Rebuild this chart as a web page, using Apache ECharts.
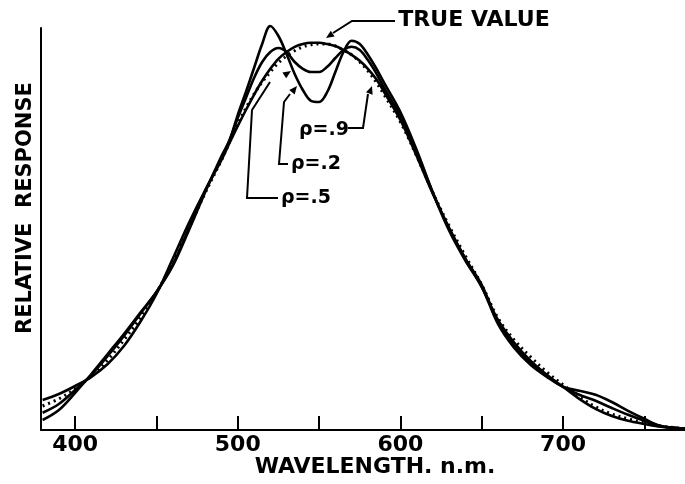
<!DOCTYPE html>
<html><head><meta charset="utf-8">
<script src="https://cdn.jsdelivr.net/npm/echarts@6/dist/echarts.min.js"></script>
<style>html,body{margin:0;padding:0;background:#fff}#c{width:685px;height:484px}</style>
</head><body><div id="c"></div>
<script>
// Wavelength samples (nm)
const wavelengths = [380,390,400,410,420,430,440,450,460,470,480,490,495,500,505,510,515,520,525,530,535,540,545,550,555,560,565,570,575,580,585,590,600,610,620,630,640,650,660,670,680,690,700,710,720,730,740,750,760,770,775];
// Relative response (0-100)
const trueValue = [6.0,7.8,10.3,13.5,17.5,22.5,28.0,34.3,42.0,50.5,59.3,67.5,72.0,76.5,80.5,84.0,87.0,89.5,91.8,93.5,94.8,95.8,96.3,96.5,96.5,96.0,95.0,93.8,92.0,89.8,87.0,83.8,77.0,68.5,59.3,51.0,43.5,36.3,28.0,22.5,18.3,14.5,11.3,8.3,5.8,4.0,2.8,1.8,1.0,0.5,0.3];
const rho2 = [2.5,5.0,9.3,14.0,19.0,24.0,29.3,34.5,41.0,50.0,59.5,68.5,72.5,78.8,84.5,90.5,96.5,101.0,98.5,94.0,89.0,85.0,82.3,82.0,84.5,89.5,94.5,97.3,96.5,93.8,90.5,86.8,79.5,70.0,59.3,49.8,42.3,35.8,26.5,20.5,16.3,13.3,10.8,9.8,8.8,7.0,4.8,2.8,1.0,0.5,0.3];
const rho5 = [4.3,6.5,10.0,13.8,18.5,23.5,29.0,34.5,41.3,50.5,59.8,68.0,72.5,78.0,83.0,88.0,92.0,94.5,95.5,94.5,92.0,90.3,89.5,89.5,90.8,93.0,95.0,95.8,95.0,92.5,89.3,85.5,78.5,69.5,59.3,50.3,42.8,36.3,27.0,21.0,16.8,13.5,10.8,8.8,7.3,5.5,3.8,2.3,1.0,0.5,0.3];
const rho9 = [7.5,9.0,11.0,13.3,16.5,21.0,27.0,34.0,42.8,51.8,60.0,67.5,71.8,76.0,80.0,83.8,87.3,90.3,92.8,94.5,95.8,96.5,96.8,96.8,96.5,96.0,95.0,93.8,92.3,90.3,87.8,84.5,77.5,68.5,59.0,50.5,42.8,35.8,27.5,21.8,17.3,13.8,10.8,7.8,5.3,3.5,2.3,1.5,0.8,0.5,0.3];
const xTickValues = [400,450,500,550,600,650,700,750];
const xLabelValues = [400,500,600,700];
const xTitle = 'WAVELENGTH. n.m.';
const yTitle = 'RELATIVE  RESPONSE';
const trueLabel = 'TRUE VALUE';
const rhoLabels = ['\u03c1=.9', '\u03c1=.2', '\u03c1=.5'];

const chart = echarts.init(document.getElementById('c'), null, {renderer: 'canvas'});
const pairs = vals => wavelengths.map((w, i) => [w, vals[i]]);
const FONT = 'DejaVu Sans';
const solid = (name, vals) => ({
  name, type: 'line', data: pairs(vals), smooth: 0.35, symbol: 'none', clip: false,
  lineStyle: {color: '#000', width: 2.6}, z: 2
});
function leader(points) {
  return {type: 'polyline', shape: {points}, style: {stroke: '#000', lineWidth: 2, fill: null}, z: 10};
}
function arrow(from, tip) {
  const dx = tip[0] - from[0], dy = tip[1] - from[1];
  const L = Math.hypot(dx, dy), ux = dx / L, uy = dy / L;
  const bx = tip[0] - ux * 8, by = tip[1] - uy * 8;
  return {type: 'polygon', shape: {points: [tip, [bx - uy * 3.5, by + ux * 3.5], [bx + uy * 3.5, by - ux * 3.5]]},
    style: {fill: '#000'}, z: 10};
}
function txt(x, y, text, size, extra) {
  return Object.assign({type: 'text', x, y, z: 10,
    style: {text, fill: '#000', font: 'bold ' + size + 'px "' + FONT + '"', align: 'center', verticalAlign: 'middle'}}, extra || {});
}

chart.setOption({
  animation: false,
  backgroundColor: '#fff',
  grid: {left: 41, right: 0, top: 28, bottom: 54},
  xAxis: {
    type: 'value', min: 379, max: 775,
    axisLine: {show: true, lineStyle: {color: '#000', width: 2}},
    axisTick: {show: true, inside: true, length: 14, customValues: xTickValues, lineStyle: {color: '#000', width: 2}},
    axisLabel: {customValues: xLabelValues, color: '#000', fontFamily: FONT, fontWeight: 'bold', fontSize: 22, margin: 4},
    splitLine: {show: false}
  },
  yAxis: {
    type: 'value', min: 0, max: 100.5,
    axisLine: {show: true, lineStyle: {color: '#000', width: 2}},
    axisTick: {show: false}, axisLabel: {show: false}, splitLine: {show: false}
  },
  series: [
    solid('\u03c1=.2', rho2),
    solid('\u03c1=.5', rho5),
    solid('\u03c1=.9', rho9),
    {name: 'TRUE VALUE', type: 'line', data: pairs(trueValue), smooth: 0.35, symbol: 'none', clip: false,
     lineStyle: {color: '#000', width: 3, type: [2, 4]}, z: 3}
  ],
  graphic: [
    txt(375, 467, xTitle, 22),
    txt(26, 208, yTitle, 21, {rotation: Math.PI / 2}),
    txt(474, 21, trueLabel, 21, {scaleX: 1.05}),
    leader([[395, 21], [352, 21], [333, 33]]), arrow([352, 21], [326, 38]),
    txt(324, 130, rhoLabels[0], 19),
    leader([[348, 128], [363, 128], [368, 94]]), arrow([367, 100], [372, 86]),
    txt(316, 164, rhoLabels[1], 19),
    leader([[288, 164], [279, 164], [284, 102], [290, 94]]), arrow([284, 102], [297, 86]),
    txt(306, 198, rhoLabels[2], 19),
    leader([[278, 198], [247, 198], [252, 110], [270, 82]]), arrow([262, 90], [291, 71])
  ]
});
</script></body></html>
